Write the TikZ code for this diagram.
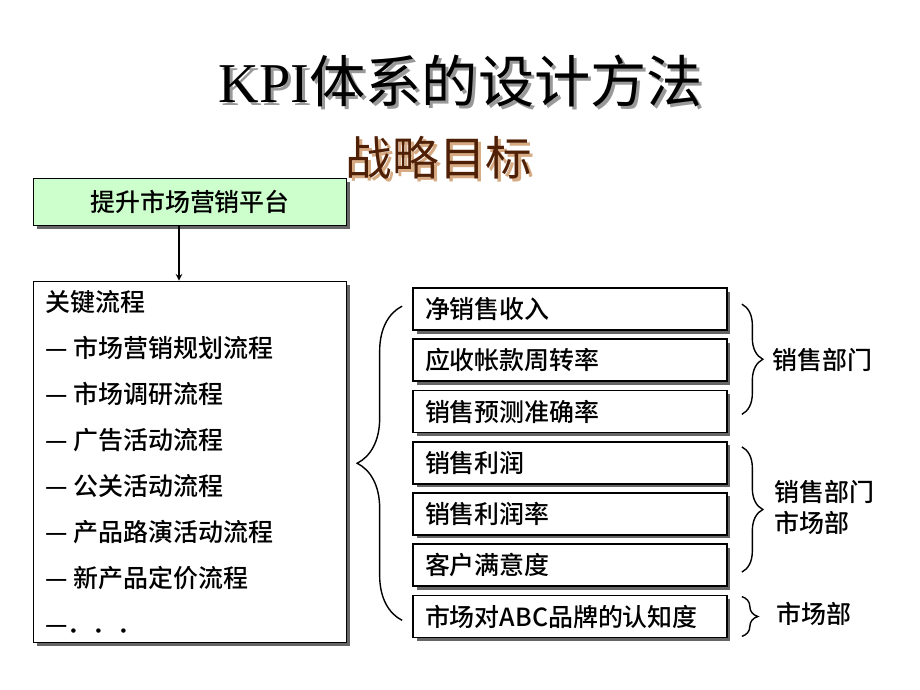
\documentclass[tikz,border=0pt]{standalone}
\usepackage{fontspec}
\usepackage{xcolor}
\usepackage{tikz}
\usetikzlibrary{shapes,arrows,positioning,shadows}
\usetikzlibrary{decorations.pathreplacing}

\newfontfamily\cjk[UprightFont={* Medium}]{Noto Sans CJK SC}
\newfontfamily\cjktitle{Noto Sans CJK SC}
\newfontfamily\titleserif{Liberation Serif}

\definecolor{goalgreen}{RGB}{204,255,204}
\definecolor{subbrown}{RGB}{80,32,6}
\definecolor{subshade}{RGB}{214,170,130}

\tikzset{
    plainbox/.style={
        draw=black,
        line width=1pt,
        fill=white,
        inner sep=0pt,
        drop shadow={shadow xshift=0.07cm, shadow yshift=-0.07cm, fill=black!60, opacity=1}
    },
    kpibox/.style={
        plainbox,
        minimum height=0.84cm,
        text width=5.8cm,
        align=left,
        inner xsep=0.24cm,
        font=\cjk\fontsize{14.2pt}{17pt}\selectfont
    },
    bracket/.style={
        decorate,
        decoration={brace, amplitude=#1},
        line width=0.8pt
    },
    deptlabel/.style={
        anchor=west,
        align=left,
        font=\cjk\fontsize{14.2pt}{17pt}\selectfont
    }
}

\begin{document}
\begin{tikzpicture}[x=0.02cm, y=-0.02cm]
                \useasboundingbox (0,0) rectangle (920,690);

                % titles
                \node[text=black!40, font=\fontsize{32pt}{36pt}\selectfont] (titleshade) at (464,84)
                    {{\titleserif KPI}\cjktitle 体系的设计方法};
                \node[font=\fontsize{32pt}{36pt}\selectfont] (title) at (461,81)
                    {{\titleserif KPI}\cjktitle 体系的设计方法};
                \node[text=subshade, font=\cjktitle\fontsize{26.5pt}{30pt}\selectfont] (subshadow) at (442,161) {战略目标};
                \node[text=subbrown, font=\cjktitle\fontsize{26.5pt}{30pt}\selectfont] (subtitle) at (439,158) {战略目标};

                % goal and key processes
                \node[
                    plainbox,
                    fill=goalgreen,
                    minimum width=6.26cm,
                    minimum height=0.94cm,
                    font=\cjk\fontsize{14.2pt}{17pt}\selectfont
                    ] (goal) at (190,202) {提升市场营销平台};

                \node[
                    plainbox,
                    minimum width=6.26cm,
                    minimum height=7.22cm
                    ] (flow) at (190,462) {};

                \node[
                    anchor=north west,
                    align=left,
                    inner sep=0pt,
                    font=\cjk\fontsize{14.2pt}{26.2pt}\selectfont
                    ] (flowtext) at (45,290) {关键流程\\
                    — 市场营销规划流程\\
                    — 市场调研流程\\
                    — 广告活动流程\\
                    — 公关活动流程\\
                    — 产品路演活动流程\\
                    — 新产品定价流程\\
                    —．．．};

                \draw[-stealth, line width=0.7pt] ([xshift=-0.22cm]goal.south) -- ([xshift=-0.22cm]flow.north);

                % KPI boxes
                \node[kpibox] (netsales) at (570,309) {净销售收入};
                \node[kpibox, below=0.15cm of netsales] (arturn) {应收帐款周转率};
                \node[kpibox, below=0.15cm of arturn] (forecast) {销售预测准确率};
                \node[kpibox, below=0.15cm of forecast] (profit) {销售利润};
                \node[kpibox, below=0.15cm of profit] (margin) {销售利润率};
                \node[kpibox, below=0.15cm of margin] (satisfy) {客户满意度};
                \node[kpibox, below=0.15cm of satisfy] (brand) {市场对ABC品牌的认知度};

                % braces
                \draw[bracket=0.9cm] ([xshift=-0.2cm,yshift=0.36cm]brand.south west)
                    -- ([xshift=-0.2cm,yshift=-0.38cm]netsales.north west);
                \draw[bracket=0.42cm] ([xshift=0.28cm,yshift=-0.34cm]netsales.north east)
                    -- ([xshift=0.28cm,yshift=0.38cm]forecast.south east);
                \draw[bracket=0.42cm] ([xshift=0.28cm,yshift=-0.12cm]profit.north east)
                    -- ([xshift=0.28cm,yshift=0.3cm]satisfy.south east);
                \draw[bracket=0.32cm] ([xshift=0.28cm,yshift=-0.04cm]brand.north east)
                    -- ([xshift=0.28cm,yshift=0.04cm]brand.south east);

                % departments
                \node[deptlabel] (salesdept) at (766,360) {销售部门};
                \node[deptlabel, execute at begin node={\baselineskip=0.62cm}] (jointdept) at (768,507) {销售部门\\市场部};
                \node[deptlabel] (marketdept) at (770,614) {市场部};
\end{tikzpicture}
\end{document}
